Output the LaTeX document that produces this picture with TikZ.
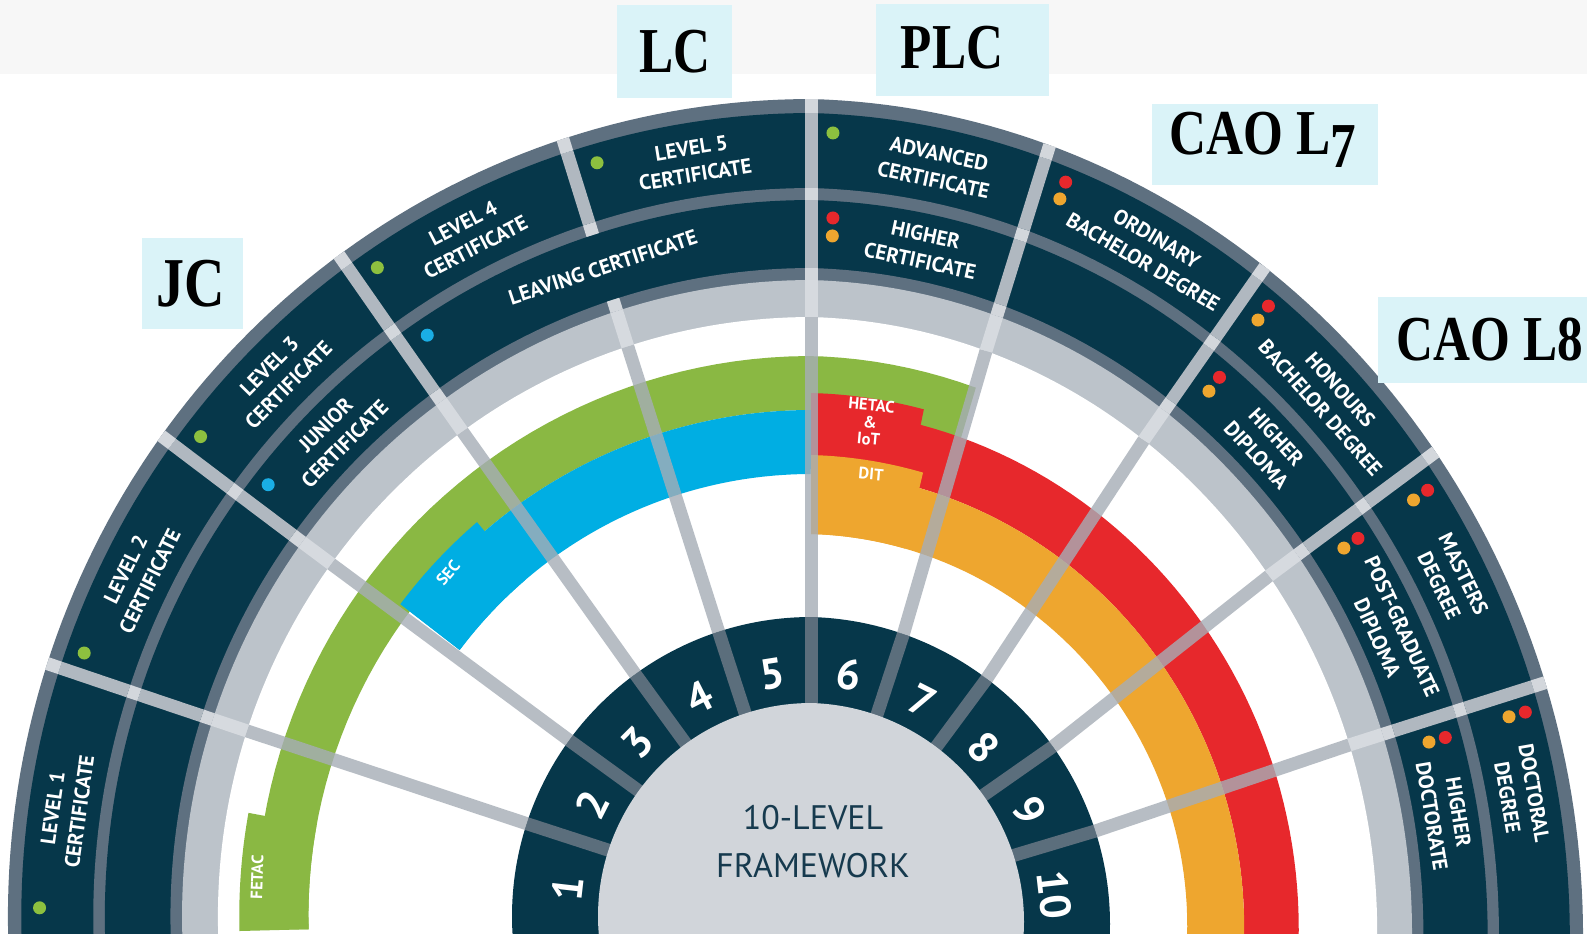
\documentclass[tikz,border=0pt]{standalone}
\usepackage{fontspec}
\newfontfamily\ptsans{PT Sans}
\newfontfamily\boxserif{Liberation Serif}
\definecolor{navy}{HTML}{06374A}
\definecolor{slate}{HTML}{5E7080}
\definecolor{ltgrey}{HTML}{BCC3CA}
\definecolor{ingrey}{HTML}{D1D5DA}
\definecolor{fgreen}{HTML}{8AB843}
\definecolor{fblue}{HTML}{00AEE3}
\definecolor{fred}{HTML}{E7282C}
\definecolor{forange}{HTML}{EEA62F}
\definecolor{dgreen}{HTML}{8DC03F}
\definecolor{dblue}{HTML}{1AAEE5}
\definecolor{boxcyan}{HTML}{DAF3F8}
\definecolor{topbg}{HTML}{F7F7F7}
\definecolor{stripeA}{HTML}{A6ADB6}
\definecolor{stripeN}{HTML}{B0B8C0}
\definecolor{stripeS}{HTML}{D3D7DC}
\definecolor{stripeL}{HTML}{D6DADF}
\definecolor{stripeR}{HTML}{5B6E7C}
\definecolor{centertext}{HTML}{163A4E}
\newcommand\hdisc[2]{\fill[#1] plot[domain=0:1,samples=181] ({PX(-10+200*\x,#2)},{PY(-10+200*\x,#2)}) -- (811,1400) -- cycle;}
\newcommand\annsec[5]{\fill[#1] plot[domain=0:1,samples=60] ({PX(#2+(#3-#2)*\x,#5)},{PY(#2+(#3-#2)*\x,#5)}) -- plot[domain=0:1,samples=60] ({PX(#3+(#2-#3)*\x,#4)},{PY(#3+(#2-#3)*\x,#4)}) -- cycle;}
\newcommand\stripe[4]{\draw[#1,line width=13pt] ({PX(#2,#3)},{PY(#2,#3)}) -- ({PX(#2,#4)},{PY(#2,#4)});}
\newcommand\ringnode[4]{\node[ringlab,rotate={RT(#2,#3)}] (#1) at ({PX(#2,#3)},{PY(#2,#3)}) {#4};}
\newcommand\dotat[3]{\fill[#1] ({PX(#2,#3)},{PY(#2,#3)}) circle[radius=6.5];}
\begin{document}
\begin{tikzpicture}[x=1pt,y=-1pt,
  declare function={
    kL(\y)=1-0.017*max(\y-300,0)/517;
    kR(\y)=1-0.055*min(max(\y-300,0),300)/300;
    KK(\x,\y)=(cos(\x)<0)*kL(\y)+(cos(\x)>=0)*kR(\y);
    PX(\x,\y)=811+\y*cos(\x)*KK(\x,\y);
    PY(\x,\y)=916-\y*sin(\x)+0.026*max(PX(\x,\y)-811,0);
    RT(\x,\y)=atan2(-cos(\x)-0.026*KK(\x,\y)*sin(\x)*(cos(\x)>=0),KK(\x,\y)*sin(\x));
  },
  ringlab/.style={text=white,font=\ptsans\bfseries\fontsize{21}{27}\selectfont,align=center,inner sep=0pt},
  tablabel/.style={text=white,font=\ptsans\bfseries\fontsize{16.5}{17}\selectfont,inner sep=0pt},
  digit/.style={text=white,font=\ptsans\bfseries\fontsize{43}{43}\selectfont,inner sep=0pt},
  boxtext/.style={text=black,font=\boxserif\bfseries\fontsize{64}{64}\selectfont,xscale=0.8,inner sep=0pt}]
\useasboundingbox (0,0) rectangle (1587,934);
\clip (0,0) rectangle (1587,934);
\fill[white] (0,0) rectangle (1587,934);
\fill[topbg] (0,0) rectangle (1587,74);
% outer rings
\hdisc{slate}{817}
\hdisc{navy}{803}
\hdisc{slate}{728}
\hdisc{navy}{716}
\hdisc{slate}{648}
\hdisc{ltgrey}{636}
\hdisc{white}{599}
% awarding body bands
\annsec{fgreen}{72}{181.5}{506}{560}
\annsec{fgreen}{169.7}{181.5}{506}{577}
\annsec{fblue}{90}{143}{442}{506}
\annsec{fblue}{130.5}{143}{442}{518}
\annsec{fred}{-5}{90}{445}{507}
\annsec{fred}{77}{90}{445}{523}
\annsec{forange}{-5}{90}{382}{445}
\annsec{forange}{75.5}{90}{382}{461}
% number ring
\hdisc{navy}{299}
% level dividers
\foreach \a in {18,36,...,162}{
  \stripe{stripeR}{\a}{205}{299}
  \stripe{stripeA,opacity=.8}{\a}{299}{599}
  \stripe{stripeL}{\a}{599}{636}
  \stripe{stripeS}{\a}{636}{648}
  \ifnum\a=108\relax\else\stripe{stripeN}{\a}{648}{716}\fi
  \stripe{stripeS}{\a}{716}{728}
  \stripe{stripeN}{\a}{728}{803}
  \stripe{stripeS}{\a}{803}{817}
}
\hdisc{ingrey}{213}
% level numbers
\foreach \n/\ang in {1/173.5,2/153,3/135,4/117,5/99,6/81,7/63,8/45,9/27,10/6.5}{
  \node[digit,rotate=\ang-90] (num\n) at ({PX(\ang,245)},{PY(\ang,245)}) {\n};
}
\node[text=centertext,font=\ptsans\fontsize{34}{34}\selectfont] (ctitle1) at (813,818) {10-LEVEL};
\node[text=centertext,font=\ptsans\fontsize{34}{34}\selectfont] (ctitle2) at (813,866) {FRAMEWORK};
% outer ring award names
\ringnode{l1}{172}{764}{LEVEL 1\\CERTIFICATE}
\ringnode{l2}{153.5}{764}{LEVEL 2\\CERTIFICATE}
\ringnode{l3}{135}{764}{LEVEL 3\\CERTIFICATE}
\ringnode{l4}{117}{764}{LEVEL 4\\CERTIFICATE}
\ringnode{l5}{99}{764}{LEVEL 5\\CERTIFICATE}
\ringnode{adv}{80}{764}{ADVANCED\\CERTIFICATE}
\ringnode{obd}{62}{764}{ORDINARY\\BACHELOR DEGREE}
\ringnode{hbd}{44}{764}{HONOURS\\BACHELOR DEGREE}
\ringnode{mas}{27.5}{764}{MASTERS\\DEGREE}
\ringnode{doc}{10.5}{764}{DOCTORAL\\DEGREE}
% inner ring award names
\ringnode{jcert}{135}{681.5}{JUNIOR\\CERTIFICATE}
\ringnode{lcert}{108}{682}{LEAVING CERTIFICATE}
\ringnode{hcert}{80}{681.5}{HIGHER\\CERTIFICATE}
\ringnode{hdip}{45}{681.5}{HIGHER\\DIPLOMA}
\ringnode{pgd}{26}{681.5}{POST-GRADUATE\\DIPLOMA}
\ringnode{hdoc}{10}{681.5}{HIGHER\\DOCTORATE}
% dots
\foreach \t in {179.4,160.4,142.3,124.2,106.1,88.3}{\dotat{dgreen}{\t}{784}}
\foreach \t in {141.9,123.8}{\dotat{dblue}{\t}{699}}
\foreach \t in {70.0,52.1,34.1,16.4}{\dotat{fred}{\t}{788}\dotat{forange}{\t}{770}}
\foreach \t in {88.1,51.8,34.1,16.2}{\dotat{fred}{\t}{699}\dotat{forange}{\t}{681}}
% band labels
\node[tablabel,rotate=88] (fetac) at (257,877) {FETAC};
\node[tablabel,rotate=50] (sec) at (448,573) {SEC};
\node[tablabel,rotate=-5,align=center] (hetac) at (870,422) {HETAC\\\&\\IoT};
\node[tablabel,rotate=-5] (dit) at (871,474) {DIT};
% added labels
\fill[boxcyan] (142,238) rectangle (243,329);
\node[boxtext,font=\boxserif\bfseries\fontsize{70}{70}\selectfont] (jc) at (191,284) {JC};
\fill[boxcyan] (617,5) rectangle (732,98);
\node[boxtext] (lc) at (675,52) {LC};
\fill[boxcyan] (876,4) rectangle (1049,96);
\node[boxtext] (plc) at (952,48) {PLC};
\fill[boxcyan] (1152,104) rectangle (1378,185);
\node[boxtext] (cao7) at (1263,140) {CAO L\raisebox{-0.2em}{7}};
\fill[boxcyan] (1378,297) rectangle (1587,383);
\node[boxtext] (cao8) at (1490,340) {CAO L8};
\end{tikzpicture}
\end{document}
